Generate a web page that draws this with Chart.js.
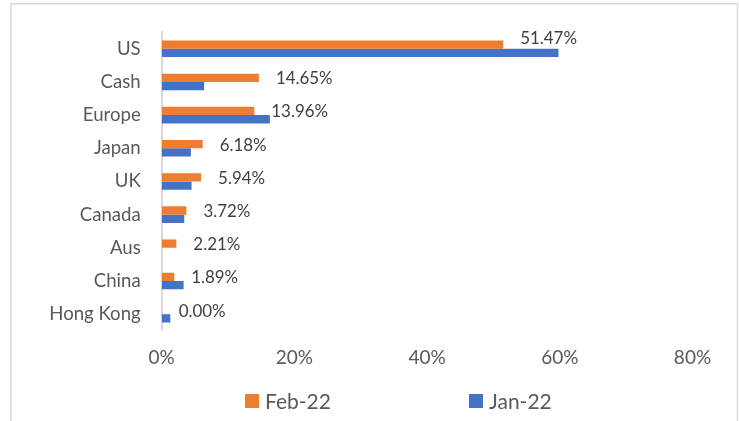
<!DOCTYPE html>
<html><head><meta charset="utf-8">
<script src="https://cdn.jsdelivr.net/npm/chart.js@4/dist/chart.umd.min.js"></script>
<style>html,body{margin:0;padding:0;background:#fff;}#wrap{width:739px;height:421px;position:relative;}</style>
</head><body><div id="wrap"><canvas id="c" width="739" height="421"></canvas></div>
<script>
const categories = ['US','Cash','Europe','Japan','UK','Canada','Aus','China','Hong Kong'];
const seriesNames = ['Feb-22','Jan-22'];
const feb22 = [51.47,14.65,13.96,6.18,5.94,3.72,2.21,1.89,0.00];
const jan22 = [59.8,6.4,16.3,4.4,4.5,3.4,0,3.3,1.3];
const xTicks = [0,20,40,60,80];
const colors = ['#ED7D31','#4472C4'];

const FONT = 'Lato, Carlito, Calibri, sans-serif';
const TEXT = '#595959';

const frame = {
  id:'frame',
  beforeDraw(chart){
    const ctx = chart.ctx;
    ctx.save();
    ctx.fillStyle = '#fff';
    ctx.fillRect(0,0,chart.width,chart.height);
    ctx.strokeStyle = '#d9d9d9';
    ctx.lineWidth = 1.5;
    ctx.strokeRect(11, 3.75, 726.5, 500);
    ctx.restore();
  }
};

const valueLabels = {
  id:'valueLabels',
  afterDatasetsDraw(chart){
    const ctx = chart.ctx;
    const m0 = chart.getDatasetMeta(0), m1 = chart.getDatasetMeta(1);
    const vals = chart.data.datasets[0].data;
    ctx.save();
    ctx.font = '16.9px ' + FONT;
    ctx.fillStyle = '#404040';
    ctx.textAlign = 'left';
    ctx.textBaseline = 'middle';
    m0.data.forEach((bar,i)=>{
      const x = bar.x + 17;
      let y = bar.y + 1;
      const other = m1.data[i];
      if (other && other.x > x) y -= 7.5;
      ctx.fillText(vals[i].toFixed(2) + '%', x, y);
    });
    ctx.restore();
  }
};

const customLegend = {
  id:'customLegend',
  afterDraw(chart){
    const ctx = chart.ctx;
    ctx.save();
    ctx.font = '21px ' + FONT;
    ctx.textBaseline = 'middle';
    ctx.textAlign = 'left';
    const spacing = 224;
    const startX = chart.width/2 - 124.5;
    const yc = 401;
    chart.data.datasets.forEach((ds,i)=>{
      const x = startX + i*spacing;
      ctx.fillStyle = ds.backgroundColor;
      ctx.fillRect(x, yc-7, 14, 14);
      ctx.fillStyle = TEXT;
      ctx.fillText(ds.label, x + 20, yc + 1);
    });
    ctx.restore();
  }
};

new Chart(document.getElementById('c'), {
  type:'bar',
  data:{
    labels: categories,
    datasets:[
      {label: seriesNames[0], data: feb22, backgroundColor: colors[0], categoryPercentage:0.5, barPercentage:1.0},
      {label: seriesNames[1], data: jan22, backgroundColor: colors[1], categoryPercentage:0.5, barPercentage:1.0}
    ]
  },
  options:{
    indexAxis:'y',
    responsive:false,
    animation:false,
    layout:{padding:{top:29, right:46.5, bottom:0, left:0}},
    plugins:{legend:{display:false}, tooltip:{enabled:false}},
    scales:{
      x:{
        min:0, max:80,
        afterBuildTicks: s => { s.ticks = xTicks.map(v=>({value:v})); },
        ticks:{callback: v => v + '%', font:{family:FONT, size:19}, color:TEXT, padding:16, maxRotation:0},
        grid:{display:false, drawTicks:false},
        border:{display:false},
        afterFit: s => { s.height = 90.2; }
      },
      y:{
        ticks:{font:{family:FONT, size:18.6}, color:TEXT, padding:21},
        grid:{display:false, drawTicks:false},
        border:{color:'#d9d9d9', width:2},
        afterFit: s => { s.width = 161.7; }
      }
    }
  },
  plugins:[frame, valueLabels, customLegend]
});
</script>
</body></html>
